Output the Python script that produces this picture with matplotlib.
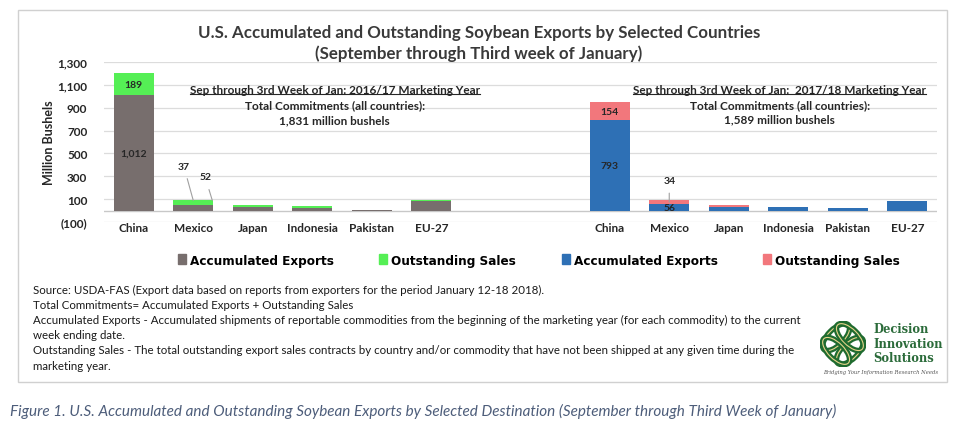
import matplotlib.pyplot as plt
import numpy as np
from matplotlib.patches import Rectangle, Ellipse
from matplotlib.lines import Line2D

countries = ["China", "Mexico", "Japan", "Indonesia", "Pakistan", "EU-27"]
acc_1617 = [1012, 52, 28, 26, 4, 86]
out_1617 = [189, 37, 20, 10, 5, 3]
acc_1718 = [793, 56, 30, 33, 20, 80]
out_1718 = [154, 34, 17, 0, 0, 0]
yticks = [-100, 100, 300, 500, 700, 900, 1100, 1300]

c_gray = "#776e6d"
c_green = "#55ef55"
c_blue = "#2e70b5"
c_pink = "#f2777c"
txt = "#262626"

plt.rcParams["font.family"] = ["Lato", "DejaVu Sans"]

fig = plt.figure(figsize=(9.58, 4.31), dpi=100)
W, H = 958, 431

# outer frame
fig.patches.append(Rectangle((18 / W, 1 - 383 / H), (947 - 18) / W, (383 - 11) / H,
                             transform=fig.transFigure, fill=False, ec="#d0d0d0", lw=1))

ax = fig.add_axes([104 / W, 1 - 223 / H, (937 - 104) / W, (223 - 63) / H])

x_left = np.arange(6)
x_right = np.arange(6) + 8
bw = 0.67
ax.bar(x_left, acc_1617, bw, color=c_gray, zorder=3)
ax.bar(x_left, out_1617, bw, bottom=acc_1617, color=c_green, zorder=3)
ax.bar(x_right, acc_1718, bw, color=c_blue, zorder=3)
ax.bar(x_right, out_1718, bw, bottom=acc_1718, color=c_pink, zorder=3)

ax.set_xlim(-0.5, 13.5)
ax.set_ylim(-100, 1300)
ax.set_yticks(yticks)
ax.set_yticklabels([f"({-v})" if v < 0 else f"{v:,}" for v in yticks],
                   fontsize=8.5, fontweight="bold", color=txt)
ax.set_xticks(list(x_left) + list(x_right))
ax.set_xticklabels(countries + countries, fontsize=8.5, fontweight="bold", color=txt)
ax.tick_params(axis="both", length=0)
ax.tick_params(axis="x", pad=0)
ax.tick_params(axis="y", pad=12)
ax.grid(axis="y", color="#dcdcdc", lw=0.9, zorder=0)
ax.axhline(0, color="#c8c8c8", lw=1, zorder=2)
for s in ax.spines.values():
    s.set_visible(False)
ax.set_ylabel("Million Bushels", fontsize=9, fontweight="bold", color=txt, labelpad=2)

# data labels
lab = dict(fontsize=7.5, fontweight="bold", color=txt, ha="center", va="center", zorder=4)
ax.text(0, acc_1617[0] / 2, f"{acc_1617[0]:,}", **lab)
ax.text(0, acc_1617[0] + out_1617[0] / 2, f"{out_1617[0]}", **lab)
ax.text(8, acc_1718[0] / 2, f"{acc_1718[0]}", **lab)
ax.text(8, acc_1718[0] + out_1718[0] / 2, f"{out_1718[0]}", **lab)
ax.text(9, acc_1718[1] / 2, f"{acc_1718[1]}", **lab)
lp = dict(arrowprops=dict(arrowstyle="-", color="#a0a0a0", lw=0.8, shrinkA=4, shrinkB=0), **lab)
ax.annotate(f"{out_1617[1]}", xy=(1.0, acc_1617[1] + out_1617[1]), xytext=(0.84, 390), **lp)
ax.annotate(f"{acc_1617[1]}", xy=(1.32, acc_1617[1] + out_1617[1]), xytext=(1.2, 294), **lp)
ax.annotate(f"{out_1718[1]}", xy=(9, acc_1718[1] + out_1718[1] / 2), xytext=(9, 265), **lp)

# subtitle blocks
blk = dict(fontsize=8.5, fontweight="bold", color=txt, ha="center", va="center")
t1 = ax.text(3.38, 1060, "Sep through 3rd Week of Jan: 2016/17 Marketing Year", **blk)
ax.text(3.38, 925, "Total Commitments (all countries):", **blk)
ax.text(3.38, 795, "1,831 million bushels", **blk)
t2 = ax.text(10.86, 1060, "Sep through 3rd Week of Jan:  2017/18 Marketing Year", **blk)
ax.text(10.86, 930, "Total Commitments (all countries):", **blk)
ax.text(10.86, 805, "1,589 million bushels", **blk)

fig.text(0.5, 1 - 33 / H, "U.S. Accumulated and Outstanding Soybean Exports by Selected Countries",
         ha="center", va="center", fontsize=12.2, fontweight="bold", color="#3a3a3a")
fig.text(0.5, 1 - 54 / H, "(September through Third week of January)",
         ha="center", va="center", fontsize=12.2, fontweight="bold", color="#3a3a3a")

# legend
handles = [Rectangle((0, 0), 1, 1, color=c) for c in (c_gray, c_green, c_blue, c_pink)]
fig.legend(handles, ["Accumulated Exports", "Outstanding Sales", "Accumulated Exports", "Outstanding Sales"],
           ncol=4, loc="center left", bbox_to_anchor=(166 / W, 1 - 261 / H), frameon=False,
           handlelength=0.6, handleheight=0.8, handletextpad=0.3, columnspacing=3.4,
           prop=dict(family=["DejaVu Sans"], stretch="condensed", weight="bold", size=9.6))

# notes
notes = [
    "Source: USDA-FAS (Export data based on reports from exporters for the period January 12-18 2018).",
    "Total Commitments= Accumulated Exports + Outstanding Sales",
    "Accumulated Exports - Accumulated shipments of reportable commodities from the beginning of the marketing year (for each commodity) to the current",
    "week ending date.",
    "Outstanding Sales - The total outstanding export sales contracts by country and/or commodity that have not been shipped at any given time during the",
    "marketing year.",
]
for i, line in enumerate(notes):
    fig.text(33 / W, 1 - (290 + i * 15.2) / H, line, ha="left", va="center", fontsize=8.3,
             color="#1a1a1a")

# logo
lax = fig.add_axes([820 / W, 1 - 368 / H, 46 / W, 46 / H])
lax.set_xlim(-1, 1)
lax.set_ylim(-1, 1)
lax.axis("off")
for ang, offs in ((45, ((-0.3, 0.3), (0.3, -0.3))), (-45, ((0.3, 0.3), (-0.3, -0.3)))):
    for dx, dy in offs:
        lax.add_patch(Ellipse((dx, dy), 1.5, 0.7, angle=ang, fill=False, ec="#1f6b2f", lw=4))
        lax.add_patch(Ellipse((dx, dy), 1.5, 0.7, angle=ang, fill=False, ec="#e7d48a", lw=0.8))
for i, w in enumerate(["Decision", "Innovation", "Solutions"]):
    fig.text(873 / W, 1 - (330 + i * 14.5) / H, w, ha="left", va="center", fontsize=8.3,
             fontweight="bold", family=["DejaVu Serif"], color="#2b6b3a")
fig.text(881 / W, 1 - 373 / H, "Bridging Your Information Research Needs", ha="center", va="center",
         fontsize=3.8, style="italic", family=["DejaVu Serif"], color="#555555")

fig.text(10 / W, 1 - 411 / H,
         "Figure 1. U.S. Accumulated and Outstanding Soybean Exports by Selected Destination (September through Third Week of January)",
         ha="left", va="center", fontsize=11, style="italic", color="#4d5d7a")

# underline the subtitle headers
fig.canvas.draw()
inv = fig.transFigure.inverted()
for t in (t1, t2):
    bb = t.get_window_extent()
    (x0, y0), (x1, _) = inv.transform([(bb.x0, bb.y0), (bb.x1, bb.y1)])
    fig.add_artist(Line2D([x0, x1], [y0 + 0.002, y0 + 0.002], color=txt, lw=0.8, transform=fig.transFigure))

fig.savefig("out.png", dpi=100)
